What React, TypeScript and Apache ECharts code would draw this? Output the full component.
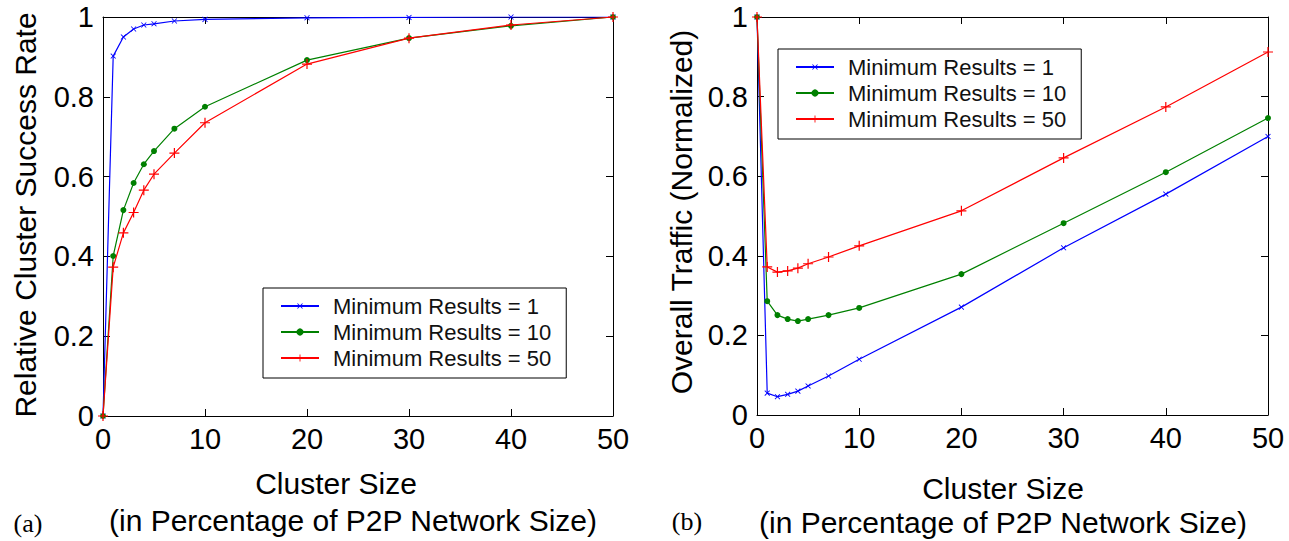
import React, { useEffect, useRef } from "react";
import * as echarts from "echarts";

// Cluster size (percentage of the P2P network size) at which each run was measured
const clusterSizes = [0, 1, 2, 3, 4, 5, 7, 10, 20, 30, 40, 50];

const seriesNames = [
  "Minimum Results = 1",
  "Minimum Results = 10",
  "Minimum Results = 50",
];

// (a) Relative cluster success rate
const successMin1 = [0, 0.902, 0.95, 0.97, 0.98, 0.983, 0.99, 0.994, 0.998, 0.999, 1.0, 1.0];
const successMin10 = [0, 0.401, 0.516, 0.584, 0.631, 0.664, 0.72, 0.775, 0.892, 0.947, 0.978, 1.0];
const successMin50 = [0, 0.373, 0.459, 0.51, 0.566, 0.606, 0.659, 0.735, 0.882, 0.947, 0.98, 1.0];

// (b) Overall traffic, normalized
const trafficMin1 = [1, 0.055, 0.046, 0.052, 0.06, 0.073, 0.098, 0.14, 0.271, 0.42, 0.555, 0.7];
const trafficMin10 = [1, 0.286, 0.251, 0.241, 0.236, 0.241, 0.251, 0.269, 0.354, 0.482, 0.61, 0.746];
const trafficMin50 = [1, 0.372, 0.359, 0.362, 0.369, 0.38, 0.397, 0.425, 0.513, 0.646, 0.774, 0.912];

const FONT = "'Liberation Sans', Arial, Helvetica, sans-serif";
const SERIF = "'Liberation Serif', 'Times New Roman', serif";

// filled plus sign; rotated 45 degrees it becomes an "x"
const PLUS = "path://M4.4,0H5.6V4.4H10V5.6H5.6V10H4.4V5.6H0V4.4H4.4Z";

const markStyles = [
  { color: "#0000ff", symbol: PLUS, symbolSize: 7, symbolRotate: 45 },
  { color: "#008000", symbol: "circle", symbolSize: 6, symbolRotate: 0 },
  { color: "#ff0000", symbol: PLUS, symbolSize: 10, symbolRotate: 0 },
];

const pairs = (xs: number[], ys: number[]) => xs.map((x, i) => [x, ys[i]]);

const makeSeries = (name: string, ys: number[], k: number, axisIndex: number) => ({
  type: "line",
  name,
  xAxisIndex: axisIndex,
  yAxisIndex: axisIndex,
  data: pairs(clusterSizes, ys),
  symbol: markStyles[k].symbol,
  symbolSize: markStyles[k].symbolSize,
  symbolRotate: markStyles[k].symbolRotate,
  showAllSymbol: true,
  lineStyle: { color: markStyles[k].color, width: 1.2 },
  itemStyle: { color: markStyles[k].color, borderWidth: 0 },
  emphasis: { disabled: true },
  z: 3 + k,
});

const xAxis = (gridIndex: number, position: string, showLabel: boolean) => ({
  type: "value",
  gridIndex,
  position,
  min: 0,
  max: 50,
  interval: 10,
  axisLine: { show: true, onZero: false, lineStyle: { color: "#000", width: 1 } },
  axisTick: { show: true, inside: true, length: 7, lineStyle: { color: "#000", width: 1 } },
  axisLabel: { show: showLabel, fontFamily: FONT, fontSize: 29, color: "#000", margin: 8 },
  splitLine: { show: false },
});

const yAxis = (gridIndex: number, position: string, showLabel: boolean) => ({
  type: "value",
  gridIndex,
  position,
  min: 0,
  max: 1,
  interval: 0.2,
  axisLine: { show: true, onZero: false, lineStyle: { color: "#000", width: 1 } },
  axisTick: { show: true, inside: true, length: 7, lineStyle: { color: "#000", width: 1 } },
  axisLabel: {
    show: showLabel,
    fontFamily: FONT,
    fontSize: 29,
    color: "#000",
    margin: 9,
    formatter: (v: number) => String(Number(v.toFixed(1))),
  },
  splitLine: { show: false },
});

const legendBox = (left: number, top: number) => ({
  data: seriesNames,
  orient: "vertical",
  left,
  top,
  selectedMode: false,
  backgroundColor: "#fff",
  borderColor: "#000",
  borderWidth: 1,
  borderRadius: 0,
  padding: [7, 15, 9, 17],
  itemGap: 4,
  itemWidth: 38,
  itemHeight: 9,
  textStyle: {
    fontFamily: FONT,
    fontSize: 22,
    color: "#111",
    padding: [0, 0, 0, 9],
  },
});

const text = (
  str: string,
  x: number,
  y: number,
  size: number,
  opts: { rotation?: number; family?: string } = {}
) => ({
  type: "text",
  x,
  y,
  rotation: opts.rotation || 0,
  silent: true,
  style: {
    text: str,
    fontFamily: opts.family || FONT,
    fontSize: size,
    fill: "#000",
    align: "center",
    verticalAlign: "middle",
  },
});

export default function App() {
  const ref = useRef<HTMLDivElement>(null);

  useEffect(() => {
    if (!ref.current) return;
    const chart = echarts.init(ref.current, undefined, { renderer: "svg" });

    chart.setOption({
      animation: false,
      backgroundColor: "#fff",
      grid: [
        { left: 103, top: 17, width: 510, height: 399, containLabel: false },
        { left: 757, top: 17, width: 511, height: 398, containLabel: false },
      ],
      xAxis: [
        xAxis(0, "bottom", true),
        xAxis(1, "bottom", true),
        xAxis(0, "top", false),
        xAxis(1, "top", false),
      ],
      yAxis: [
        yAxis(0, "left", true),
        yAxis(1, "left", true),
        yAxis(0, "right", false),
        yAxis(1, "right", false),
      ],
      legend: [legendBox(263, 288), legendBox(778, 49)],
      series: [
        makeSeries(seriesNames[0], successMin1, 0, 0),
        makeSeries(seriesNames[1], successMin10, 1, 0),
        makeSeries(seriesNames[2], successMin50, 2, 0),
        makeSeries(seriesNames[0], trafficMin1, 0, 1),
        makeSeries(seriesNames[1], trafficMin10, 1, 1),
        makeSeries(seriesNames[2], trafficMin50, 2, 1),
      ],
      graphic: [
        text("Relative Cluster Success Rate", 25, 215, 30, { rotation: Math.PI / 2 }),
        text("Overall Traffic (Normalized)", 681, 212, 30, { rotation: Math.PI / 2 }),
        text("Cluster Size", 336, 483, 30),
        text("(in Percentage of P2P Network Size)", 353, 520, 30),
        text("Cluster Size", 1003, 488, 30),
        text("(in Percentage of P2P Network Size)", 1003, 522, 30),
        text("(a)", 28, 523, 26, { family: SERIF }),
        text("(b)", 687, 521, 26, { family: SERIF }),
      ],
    });

    return () => chart.dispose();
  }, []);

  return (
    <div
      ref={ref}
      style={{ position: "fixed", left: 0, top: 0, width: 1289, height: 541, background: "#fff" }}
    />
  );
}
